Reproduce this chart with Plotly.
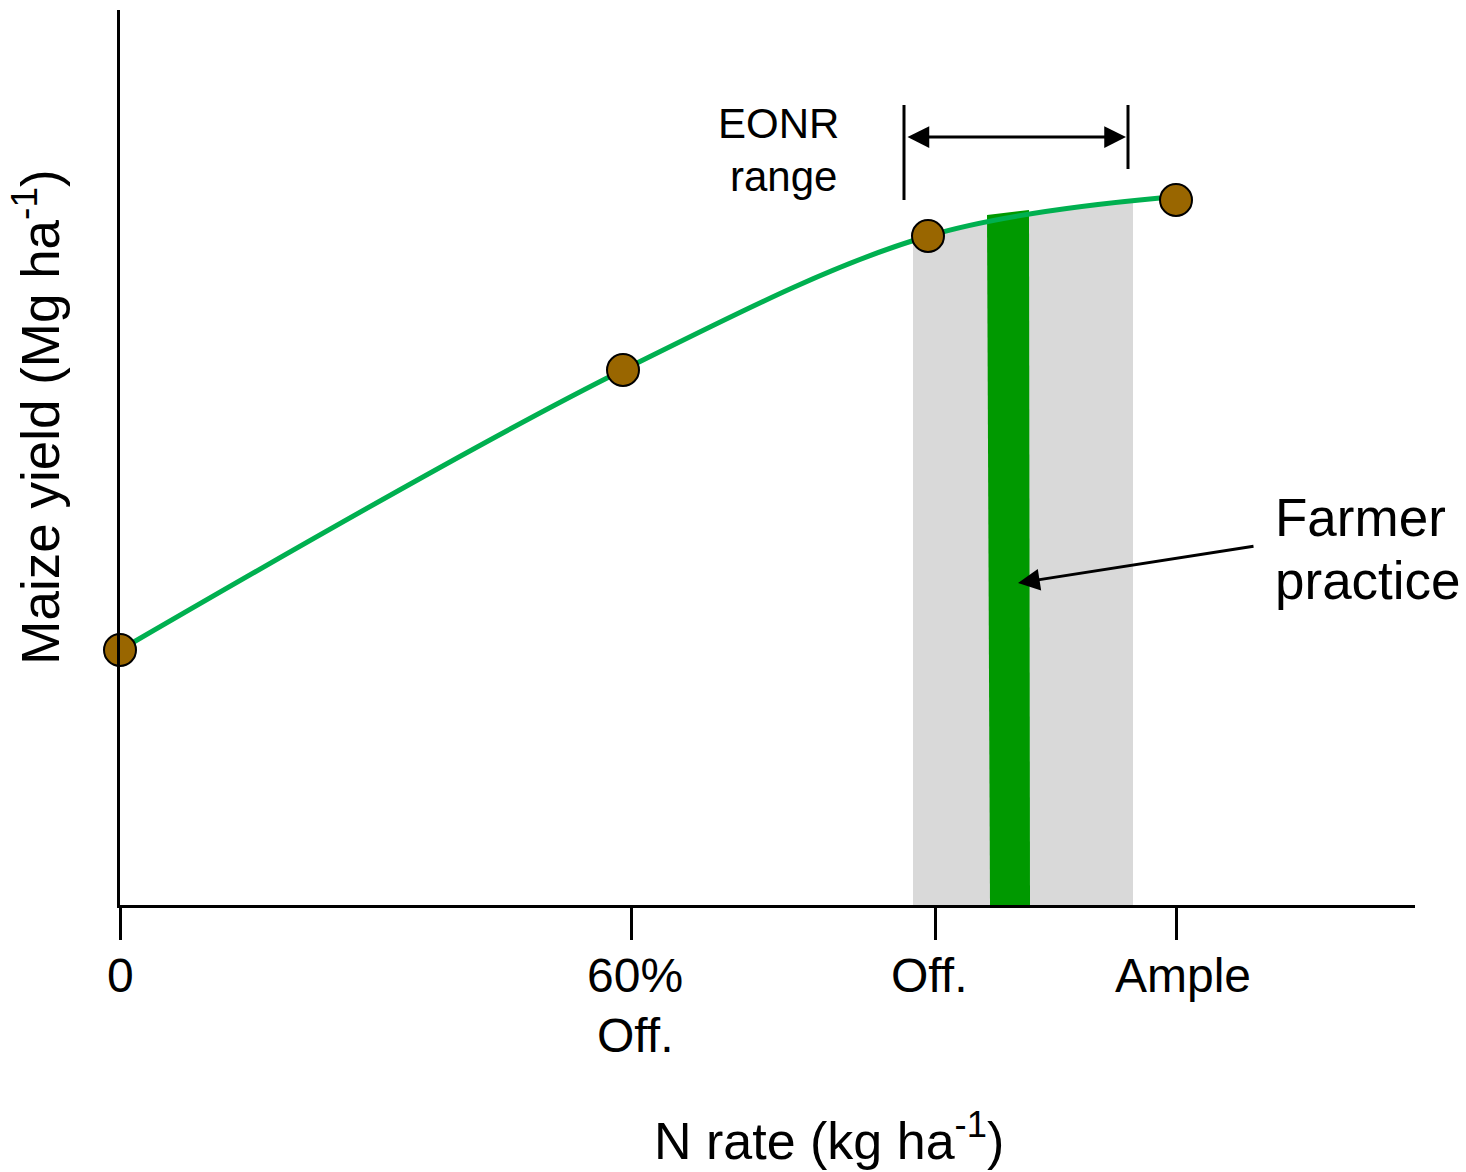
import plotly.graph_objects as go

# Conceptual N-response diagram, drawn on a relative scale
# (x: N rate units, y: yield units; both arbitrary)

# Observed treatment means
n_rate_obs = [0, 503, 808, 1056]
yield_obs = [255, 535, 669, 705]

# Fitted response curve (knots of the smooth fit)
curve_n = [0, 503, 808, 1040]
curve_yield = [255, 535, 669, 707]

# EONR range (gray band under the curve)
eonr_lo_n, eonr_hi_n = 793, 1013

# Farmer practice band (green)
farmer_n_bottom = [870, 910]
farmer_n_top = [867, 909]
farmer_yield_top = [690, 695]

# Axis ticks
tick_vals = [0, 511, 815, 1056]
tick_text = ["0", "60%<br>Off.", "Off.", "Ample"]
tick_label_n = [0, 515, 809, 1063]

# Annotation geometry
eonr_lo, eonr_hi = 784, 1008
eonr_arrow_y = 768
eonr_bar_top = 800
eonr_bar_bottom = [705, 736]
farmer_arrow_tail = (1135, 359)
farmer_arrow_head = (898, 322)

FONT = "Liberation Sans, Arial, Helvetica, sans-serif"
BLACK = "#000000"
X_SPAN = 1295
Y_SPAN = 895
AXIS_Y_PX = 905  # pixel row of the x-axis line

fig = go.Figure()

# --- band subplot (x/y): its domain covers only the EONR range, so the
# fill under the response curve is clipped to that range
fig.add_trace(go.Scatter(
    x=curve_n, y=curve_yield, mode="lines",
    line=dict(width=0, shape="spline", color="#d9d9d9"),
    fill="tozeroy", fillcolor="#d9d9d9",
    hoverinfo="skip", showlegend=False, xaxis="x", yaxis="y",
))
fig.add_trace(go.Scatter(
    x=[farmer_n_bottom[0], farmer_n_bottom[1], farmer_n_top[1], farmer_n_top[0], farmer_n_bottom[0]],
    y=[0, 0, farmer_yield_top[1], farmer_yield_top[0], 0],
    mode="lines", line=dict(width=0, color="#009900"),
    fill="toself", fillcolor="#009900",
    hoverinfo="skip", showlegend=False, xaxis="x", yaxis="y",
))

# --- main subplot (x2/y2)
fig.add_trace(go.Scatter(
    x=curve_n, y=curve_yield, mode="lines",
    line=dict(color="#00b050", width=5, shape="spline"),
    hoverinfo="skip", showlegend=False, cliponaxis=False,
    xaxis="x2", yaxis="y2",
))
fig.add_trace(go.Scatter(
    x=n_rate_obs, y=yield_obs, mode="markers",
    marker=dict(size=32, color="#996600", line=dict(color=BLACK, width=2)),
    showlegend=False, cliponaxis=False, xaxis="x2", yaxis="y2",
))

# EONR bracket end lines
fig.add_shape(type="line", xref="x2", yref="y2",
              x0=eonr_lo, x1=eonr_lo, y0=eonr_bar_bottom[0], y1=eonr_bar_top,
              line=dict(color=BLACK, width=3), layer="above")
fig.add_shape(type="line", xref="x2", yref="y2",
              x0=eonr_hi, x1=eonr_hi, y0=eonr_bar_bottom[1], y1=eonr_bar_top,
              line=dict(color=BLACK, width=3), layer="above")

# double-headed EONR arrow
fig.add_annotation(x=eonr_hi - 2, y=eonr_arrow_y, ax=eonr_lo + 2, ay=eonr_arrow_y,
                   xref="x2", yref="y2", axref="x2", ayref="y2", text="",
                   showarrow=True, arrowhead=2, arrowside="end+start",
                   arrowsize=1.45, arrowwidth=3, arrowcolor=BLACK)

# farmer practice arrow
fig.add_annotation(x=farmer_arrow_head[0], y=farmer_arrow_head[1],
                   ax=farmer_arrow_tail[0], ay=farmer_arrow_tail[1],
                   xref="x2", yref="y2", axref="x2", ayref="y2", text="",
                   showarrow=True, arrowhead=2, arrowsize=1.45, arrowwidth=3,
                   arrowcolor=BLACK)


def label(x, y_px, text, size, xanchor="center"):
    """Text placed in paper space from an x data value and a pixel row."""
    fig.add_annotation(x=x / X_SPAN, y=(AXIS_Y_PX - y_px) / Y_SPAN,
                       xref="paper", yref="paper", text=text,
                       showarrow=False, font=dict(family=FONT, size=size, color=BLACK),
                       xanchor=xanchor, yanchor="middle")


label(658, 124, "EONR", 42)
label(663, 176, "range", 42)
label(1153, 517, "Farmer", 53, xanchor="left")
label(1153, 580, "practice", 53, xanchor="left")

# tick labels
for xn, txt in zip(tick_label_n, tick_text):
    for i, line in enumerate(txt.split("<br>")):
        label(xn, 975 + 60 * i, line, 48)

# axis titles
fig.add_annotation(x=-0.0645, y=0.545, xref="paper", yref="paper",
                   text="Maize yield (Mg ha<sup>-1</sup>)", textangle=-90,
                   showarrow=False, font=dict(family=FONT, size=53, color=BLACK),
                   xanchor="center", yanchor="middle")
label(709, 1137, "N rate (kg ha<sup>-1</sup>)", 52)

fig.update_layout(
    xaxis=dict(domain=[eonr_lo_n / X_SPAN, eonr_hi_n / X_SPAN],
               range=[eonr_lo_n, eonr_hi_n], visible=False, anchor="y"),
    yaxis=dict(domain=[0, 1], range=[0, Y_SPAN], visible=False, anchor="x"),
    xaxis2=dict(
        domain=[0, 1], range=[0, X_SPAN], anchor="y2",
        showgrid=False, zeroline=False,
        showline=True, linecolor=BLACK, linewidth=3,
        ticks="outside", ticklen=32, tickwidth=3, tickcolor=BLACK,
        tickvals=tick_vals, showticklabels=False,
    ),
    yaxis2=dict(
        domain=[0, 1], range=[0, Y_SPAN], anchor="x2",
        showgrid=False, zeroline=False,
        showline=True, linecolor=BLACK, linewidth=3,
        ticks="", showticklabels=False,
    ),
    width=1466, height=1172,
    margin=dict(l=120, r=51, t=10, b=267),
    plot_bgcolor="rgba(0,0,0,0)", paper_bgcolor="white",
    font=dict(family=FONT, color=BLACK),
    showlegend=False,
)

fig.write_html("out.html")
